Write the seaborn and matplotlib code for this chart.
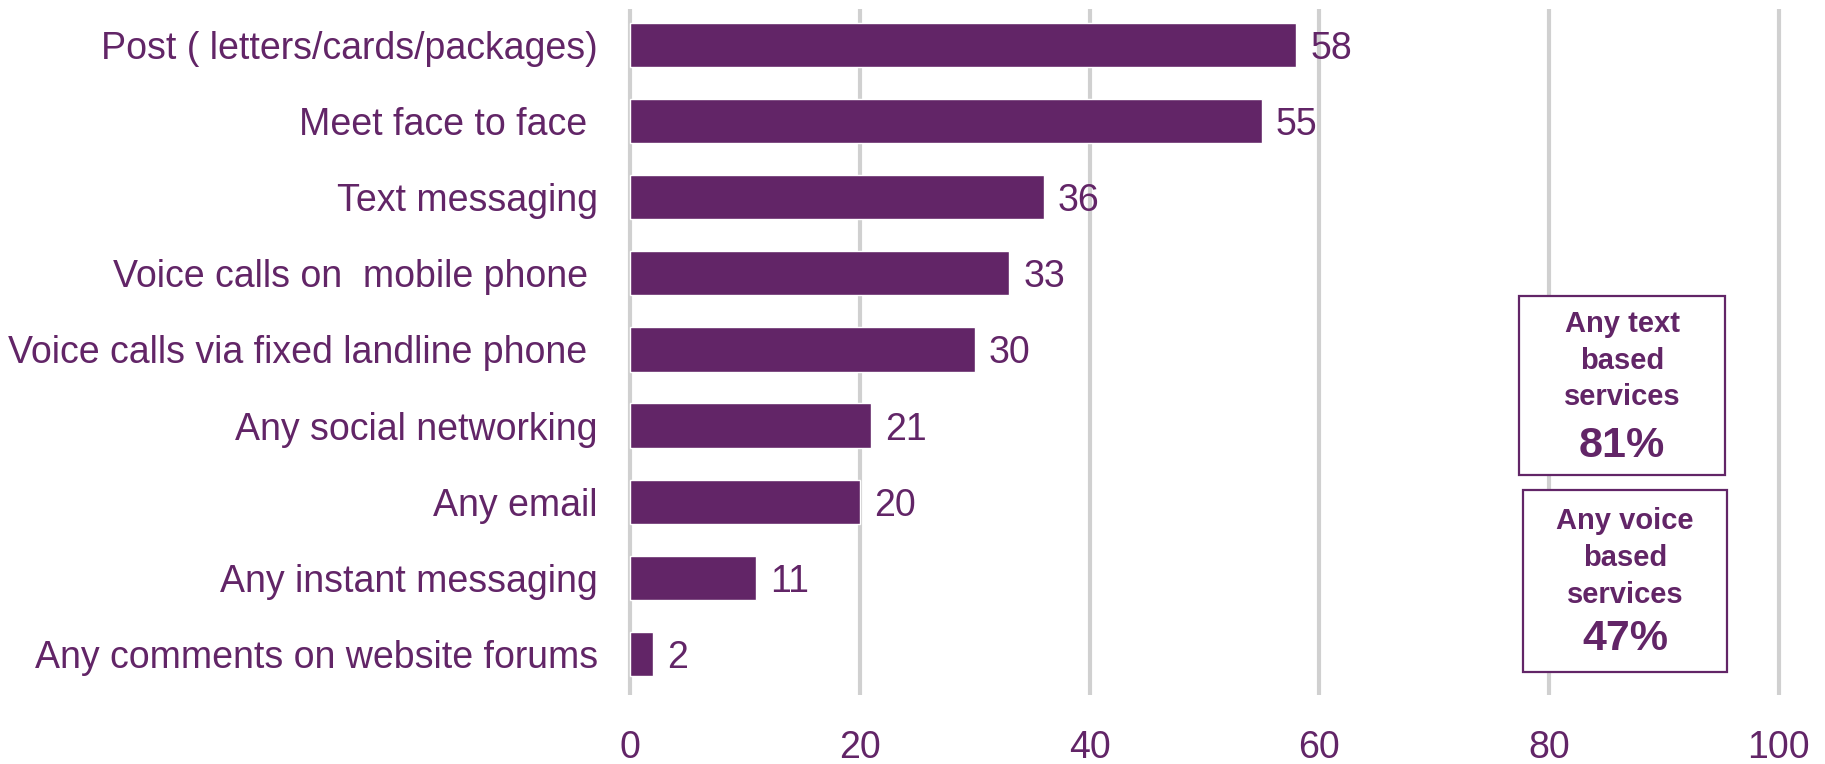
import matplotlib
matplotlib.use("Agg")
import matplotlib.pyplot as plt
import seaborn as sns
import pandas as pd

# Share of respondents using each communication method (%)
categories = [
    "Post ( letters/cards/packages)",
    "Meet face to face ",
    "Text messaging",
    "Voice calls on  mobile phone ",
    "Voice calls via fixed landline phone ",
    "Any social networking",
    "Any email",
    "Any instant messaging",
    "Any comments on website forums",
]
values = [58, 55, 36, 33, 30, 21, 20, 11, 2]

# Summary call-outs
summary_titles = ["Any text\nbased\nservices", "Any voice\nbased\nservices"]
summary_values = [81, 47]

x_ticks = [0, 20, 40, 60, 80, 100]

PURPLE = "#622567"
GRID = "#D0D0D0"

sns.set_theme(style="white")
plt.rcParams["font.family"] = ["Liberation Sans", "DejaVu Sans"]

df = pd.DataFrame({"method": categories, "pct": values})

fig = plt.figure(figsize=(18.25, 7.64), dpi=100)
ax = fig.add_axes([0.3421, 0.0903, 0.9779 - 0.3421, 0.988 - 0.0903])

sns.barplot(data=df, y="method", x="pct", orient="h", color=PURPLE,
            saturation=1, width=0.58, ax=ax, zorder=3)

ax.set_xlim(-0.5, 100.5)
ax.set_ylim(8.54, -0.47)
ax.set_xticks(x_ticks)
ax.set_xticklabels([str(t) for t in x_ticks])
ax.xaxis.grid(True, color=GRID, linewidth=3, zorder=0)
ax.yaxis.grid(False)
for s in ax.spines.values():
    s.set_visible(False)

ax.tick_params(axis="x", length=0, pad=25, labelsize=27, labelcolor=PURPLE)
ax.tick_params(axis="y", length=0, pad=19, labelsize=27, labelcolor=PURPLE)
for lbl in ax.get_yticklabels():
    lbl.set_va("center_baseline")
ax.set_xlabel("")
ax.set_ylabel("")

# Value labels at the end of each bar
for i, v in enumerate(values):
    ax.annotate(f"{v:g}", xy=(v, i), xytext=(10, 0), textcoords="offset points",
                ha="left", va="center_baseline", fontsize=27, color=PURPLE)

# Summary boxes on the right: (x0, x1, y_top, y_bottom, title_top, value_baseline)
box_specs = [
    (77.4, 95.3, 3.30, 5.65, 3.48, 5.41),
    (77.7, 95.5, 5.85, 8.24, 6.07, 7.95),
]
for (x0, x1, yt, yb, tt, vb), title, val in zip(box_specs, summary_titles, summary_values):
    rect = plt.Rectangle((x0, yt), x1 - x0, yb - yt, facecolor="white",
                         edgecolor=PURPLE, linewidth=1.6, zorder=4)
    ax.add_patch(rect)
    xc = (x0 + x1) / 2
    ax.text(xc, tt, title, ha="center", va="top", fontsize=21,
            fontweight="bold", color=PURPLE, linespacing=1.4, zorder=5)
    ax.text(xc, vb, f"{val}%", ha="center", va="baseline", fontsize=31,
            fontweight="bold", color=PURPLE, zorder=5)

fig.savefig("out.png", dpi=100)
